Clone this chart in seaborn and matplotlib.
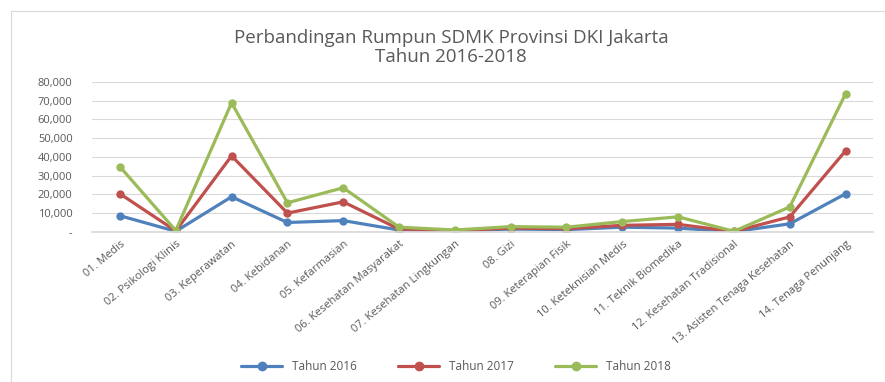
import matplotlib
matplotlib.use("Agg")
import matplotlib.pyplot as plt
import matplotlib.ticker as mticker
import seaborn as sns
import pandas as pd

categories = [
    "01. Medis", "02. Psikologi Klinis", "03. Keperawatan", "04. Kebidanan",
    "05. Kefarmasian", "06. Kesehatan Masyarakat", "07. Kesehatan Lingkungan",
    "08. Gizi", "09. Keterapian Fisik", "10. Keteknisian Medis",
    "11. Teknik Biomedika", "12. Kesehatan Tradisional",
    "13. Asisten Tenaga Kesehatan", "14. Tenaga Penunjang",
]
tahun_2016 = [8600, 300, 18700, 5000, 6000, 1000, 500, 1500, 1200, 2500, 2000, 100, 4300, 20300]
tahun_2017 = [20300, 500, 40500, 10000, 16000, 1500, 700, 2000, 1700, 3500, 4000, 200, 8000, 43200]
tahun_2018 = [34700, 700, 68800, 15500, 23500, 2500, 1000, 2800, 2500, 5500, 8000, 300, 13300, 73600]
series_names = ["Tahun 2016", "Tahun 2017", "Tahun 2018"]
colors = ["#4F81BD", "#C0504D", "#9BBB59"]

rows = []
for name, vals in zip(series_names, [tahun_2016, tahun_2017, tahun_2018]):
    for i, (c, v) in enumerate(zip(categories, vals)):
        rows.append({"idx": i, "kategori": c, "series": name, "value": v})
df = pd.DataFrame(rows)

sns.set_theme(style="white")
plt.rcParams["font.family"] = ["Open Sans", "DejaVu Sans"]

fig = plt.figure(figsize=(8.85, 3.82), dpi=100)
ax = fig.add_axes([0.104, 0.393, 0.883, 0.393])

sns.lineplot(data=df, x="idx", y="value", hue="series", palette=colors,
             marker="o", markersize=6, markeredgewidth=0, linewidth=2.3,
             ax=ax, legend=False)

ax.set_xlim(-0.5, len(categories) - 0.5)
ax.set_ylim(0, 80000)
ax.set_yticks(range(0, 80001, 10000))
ax.yaxis.set_major_formatter(mticker.FuncFormatter(
    lambda v, p: "-" if v == 0 else f"{int(v):,}"))
ax.set_xticks(range(len(categories)))
ax.set_xticklabels(categories, rotation=40, ha="right", rotation_mode="anchor",
                   fontsize=8, color="#595959")
ax.tick_params(axis="y", labelsize=8, labelcolor="#595959", length=0, pad=14)
ax.tick_params(axis="x", length=0, pad=5)
ax.set_xlabel("")
ax.set_ylabel("")
ax.grid(axis="y", color="#D9D9D9", linewidth=0.8)
for s in ["left", "right", "top"]:
    ax.spines[s].set_visible(False)
ax.spines["bottom"].set_color("#D9D9D9")

fig.text(0.51, 0.90, "Perbandingan Rumpun SDMK Provinsi DKI Jakarta",
         ha="center", va="center", fontsize=13.5, color="#595959")
fig.text(0.51, 0.85, "Tahun 2016-2018", ha="center", va="center",
         fontsize=13.5, color="#595959")

handles = [plt.Line2D([0], [0], color=c, marker="o", markersize=6, linewidth=2.3)
           for c in colors]
fig.legend(handles, series_names, loc="center", bbox_to_anchor=(0.515, 0.04),
           ncol=3, frameon=False, fontsize=8.5, labelcolor="#595959",
           handlelength=3.5, columnspacing=3.5)

border = plt.Rectangle((0.012, -0.01), 0.99, 0.98, transform=fig.transFigure,
                       fill=False, edgecolor="#D9D9D9", linewidth=0.8)
fig.patches.append(border)

fig.savefig("out.png", dpi=100, facecolor="white")
